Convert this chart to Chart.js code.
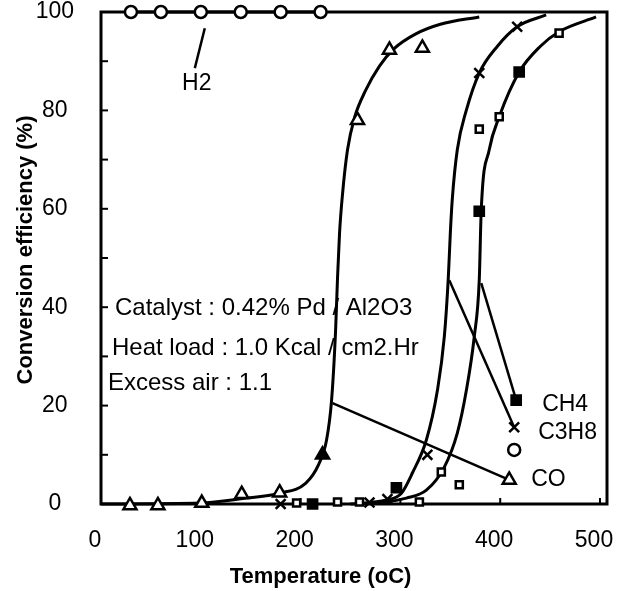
<!DOCTYPE html>
<html>
<head>
<meta charset="utf-8">
<script src="https://cdn.jsdelivr.net/npm/chart.js@4.4.1/dist/chart.umd.min.js"></script>
<style>
  html, body { margin: 0; padding: 0; background: #fff; }
  #wrap { width: 617px; height: 591px; }
</style>
</head>
<body>
<div id="wrap"><canvas id="chart" width="617" height="591"></canvas></div>
<script>
// measured points (temperature oC, conversion %)
const h2Temp = [30, 60, 100, 140, 180, 220];
const h2Conv = [100, 100, 100, 100, 100, 100];

const coTemp = [29, 57, 101, 141, 179, 257, 289, 322];
const coConv = [-0.3, -0.3, 0.2, 2, 2.3, 78, 92.3, 92.7];
const coFilledTemp = [222];
const coFilledConv = [10];

const c3h8Temp = [180, 269, 287, 327, 379, 417];
const c3h8Conv = [0, 0.3, 1, 10, 87.6, 97];

const ch4Temp = [212, 296, 379, 419];
const ch4Conv = [0, 3.3, 59.5, 87.8];
const ch4OpenTemp = [196, 237, 259, 319, 341, 359, 379, 399, 459];
const ch4OpenConv = [0.2, 0.4, 0.4, 0.4, 6.5, 3.9, 76.2, 78.7, 95.7];

// hand-drawn fitted curves
const coFitTemp = [0, 100, 142, 179, 205, 218, 226, 231, 235, 237, 239, 242, 247, 254, 265, 279, 294, 315, 340, 379];
const coFitConv = [0, 0.2, 1.1, 2.2, 4.2, 8, 13, 21, 35, 46, 55, 63, 72, 78.5, 84, 89, 92.6, 95.5, 97.5, 99];
const c3h8FitTemp = [250, 286, 301, 312, 326, 337, 344, 348, 350, 352, 357, 366, 379, 397, 417, 446];
const c3h8FitConv = [0, 0.8, 2.2, 6.3, 13, 23, 34, 46, 55, 62, 72, 80, 87.6, 93, 97, 99.4];
const ch4FitTemp = [270, 306, 326, 344, 357, 366, 374, 379, 381, 389, 399, 419, 440, 459, 496];
const ch4FitConv = [0, 1.2, 2.8, 7.5, 14.4, 23, 34, 45.5, 59.8, 72, 78.7, 87.8, 93, 96, 99];

// label key markers and leader lines
const keyTemp = [416, 414, 414, 409];
const keyConv = [21.1, 15.6, 11, 4.9];
const h2Leader = [[104, 96.7], [94, 88.6]];
const coLeader = [[232, 20.5], [409, 4.9]];
const c3h8Leader = [[349, 45.5], [414, 15.6]];
const ch4Leader = [[381, 44.9], [416, 21.1]];

const xTicks = [0, 100, 200, 300, 400, 500];
const yTicks = [0, 10, 20, 30, 40, 50, 60, 70, 80, 90, 100];

const FONT = '"Liberation Sans", Arial, sans-serif';
const pts = (xs, ys) => xs.map((x, i) => ({ x, y: ys[i] }));
const seg = arr => arr.map(p => ({ x: p[0], y: p[1] }));

const curve = (data) => ({
  data, showLine: true, pointRadius: 0, borderColor: '#000', borderWidth: 3,
  cubicInterpolationMode: 'monotone', clip: false, order: 3,
});
const leader = (data) => ({
  data, showLine: true, pointRadius: 0, borderColor: '#000', borderWidth: 2.5,
  tension: 0, clip: false, order: 2,
});
const marks = (data, style, radius, fill) => ({
  data, showLine: false, pointStyle: style, pointRadius: radius,
  backgroundColor: fill, borderColor: '#000', borderWidth: 2.5, clip: false, order: 0,
});

const notes = [
  { text: 'Catalyst : 0.42% Pd / Al2O3', x: 14, y: 39.8, align: 'left' },
  { text: 'Heat load : 1.0 Kcal / cm2.Hr', x: 11, y: 31.7, align: 'left' },
  { text: 'Excess air : 1.1', x: 7, y: 24.6, align: 'left' },
  { text: 'H2', x: 96, y: 85.5, align: 'center' },
  { text: 'CH4', x: 442, y: 20.1, align: 'left' },
  { text: 'C3H8', x: 438, y: 14.6, align: 'left' },
  { text: 'CO', x: 431, y: 4.9, align: 'left' },
];

const decor = {
  id: 'decor',
  beforeDatasetsDraw(chart) {
    const { ctx, chartArea: a, scales } = chart;
    ctx.save();
    ctx.strokeStyle = '#000';
    ctx.lineWidth = 3;
    ctx.strokeRect(a.left, a.top, a.right - a.left, a.bottom - a.top);
    ctx.lineWidth = 2;
    yTicks.forEach(v => {
      const py = scales.y.getPixelForValue(v);
      ctx.beginPath();
      ctx.moveTo(a.left, py);
      ctx.lineTo(a.left + 7, py);
      ctx.stroke();
    });
    xTicks.slice(1).forEach(v => {
      const px = scales.x.getPixelForValue(v);
      ctx.beginPath();
      ctx.moveTo(px, a.bottom);
      ctx.lineTo(px, a.bottom - 6);
      ctx.stroke();
    });
    ctx.restore();
  },
  afterDraw(chart) {
    const { ctx, chartArea: a, scales } = chart;
    ctx.save();
    ctx.fillStyle = '#000';
    ctx.textBaseline = 'middle';
    notes.forEach(n => {
      ctx.textAlign = n.align;
      const size = n.text.length > 5 ? 24 : 23;
      ctx.font = size + 'px ' + FONT;
      ctx.fillText(n.text, scales.x.getPixelForValue(n.x), scales.y.getPixelForValue(n.y));
    });
    ctx.font = 'bold 22px ' + FONT;
    ctx.textAlign = 'center';
    ctx.fillText('Temperature (oC)', scales.x.getPixelForValue(220), a.bottom + 73);
    ctx.translate(26, (a.top + a.bottom) / 2 - 8);
    ctx.rotate(-Math.PI / 2);
    ctx.fillText('Conversion efficiency (%)', 0, 0);
    ctx.restore();
  },
};

new Chart(document.getElementById('chart'), {
  type: 'scatter',
  data: {
    datasets: [
      curve(pts(coFitTemp, coFitConv)),
      curve(pts(c3h8FitTemp, c3h8FitConv)),
      curve(pts(ch4FitTemp, ch4FitConv)),
      curve(pts(h2Temp, h2Conv)),
      leader(seg(h2Leader)),
      leader(seg(coLeader)),
      leader(seg(c3h8Leader)),
      leader(seg(ch4Leader)),
      marks(pts(h2Temp, h2Conv), 'circle', 6, '#fff'),
      marks(pts(coTemp, coConv), 'triangle', 7.5, '#fff'),
      marks(pts(coFilledTemp, coFilledConv), 'triangle', 7.5, '#000'),
      marks(pts(c3h8Temp, c3h8Conv), 'crossRot', 7, '#000'),
      marks(pts(ch4Temp, ch4Conv), 'rect', 6.5, '#000'),
      marks(pts(ch4OpenTemp, ch4OpenConv), 'rect', 5, '#fff'),
      marks(pts(keyTemp.slice(0, 1), keyConv.slice(0, 1)), 'rect', 6.5, '#000'),
      marks(pts(keyTemp.slice(1, 2), keyConv.slice(1, 2)), 'crossRot', 7, '#000'),
      marks(pts(keyTemp.slice(2, 3), keyConv.slice(2, 3)), 'circle', 6, '#fff'),
      marks(pts(keyTemp.slice(3, 4), keyConv.slice(3, 4)), 'triangle', 7.5, '#fff'),
    ],
  },
  options: {
    responsive: false,
    devicePixelRatio: 1,
    animation: false,
    layout: { padding: { top: 12, right: 9, left: 0, bottom: 0 } },
    plugins: { legend: { display: false }, tooltip: { enabled: false } },
    scales: {
      x: {
        type: 'linear',
        min: 0,
        max: 507,
        grid: { display: false },
        border: { display: false },
        afterBuildTicks: s => { s.ticks = xTicks.map(v => ({ value: v })); },
        afterFit: s => { s.height = 87; s.paddingLeft = 0; s.paddingRight = 0; },
        ticks: {
          autoSkip: false,
          maxRotation: 0,
          minRotation: 0,
          padding: 15,
          labelOffset: -6,
          color: '#000',
          font: { family: FONT, size: 23 },
          callback: v => String(v),
        },
      },
      y: {
        type: 'linear',
        min: 0,
        max: 100,
        grid: { display: false },
        border: { display: false },
        afterBuildTicks: s => { s.ticks = yTicks.filter(v => v % 20 === 0).map(v => ({ value: v })); },
        afterFit: s => { s.width = 101; s.paddingTop = 0; s.paddingBottom = 0; },
        ticks: {
          autoSkip: false,
          padding: 19,
          crossAlign: 'center',
          color: '#000',
          font: { family: FONT, size: 23 },
          callback: v => String(v),
        },
      },
    },
  },
  plugins: [decor],
});
</script>
</body>
</html>
